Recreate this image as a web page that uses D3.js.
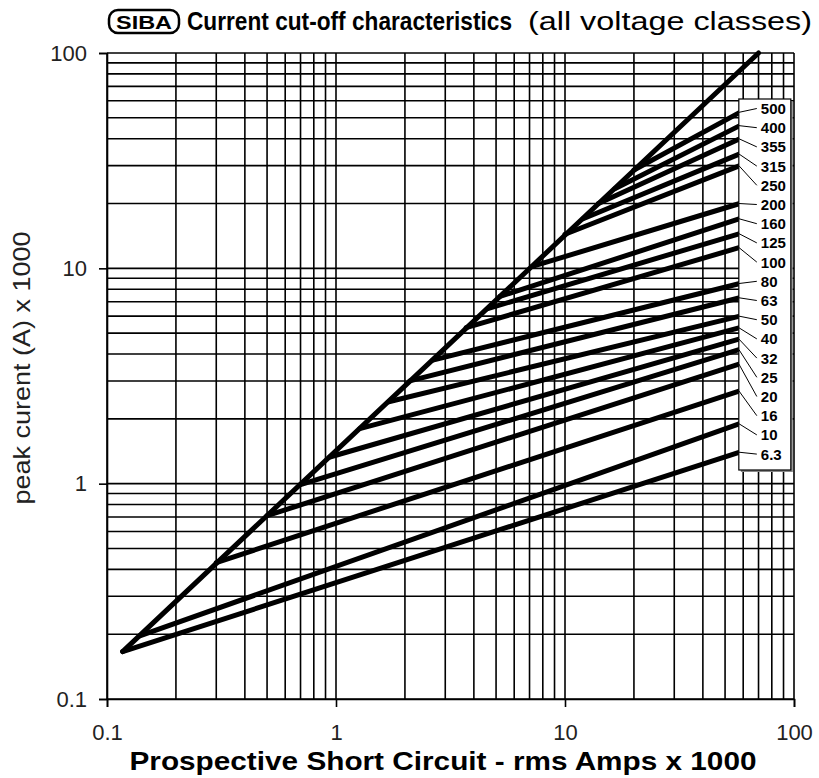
<!DOCTYPE html>
<html lang="en">
<head>
<meta charset="UTF-8">
<title>SIBA current cut-off characteristics</title>
<script src="https://d3js.org/d3.v7.min.js"></script>
<style>
    body { margin: 0; background: #fff; font-family: "Liberation Sans", Arial, sans-serif; }
    .grid line { stroke: #000; stroke-width: 1.6; }
    .curve { fill: none; stroke: #000; stroke-width: 5; stroke-linecap: round; }
    .tick-label { font-size: 22px; fill: #222; }
</style>
</head>
<body>
<svg width="819" height="778"></svg>
<script>
    // fuse ratings in legend order (top to bottom)
    const fuseRatings = ["500", "400", "355", "315", "250", "200", "160", "125", "100", "80",
                         "63", "50", "40", "32", "25", "20", "16", "10", "6.3"];
    // point where each cut-off line leaves the max-peak line (kA rms, kA peak)
    const cutStartRms  = [20, 16.5, 14, 12, 10, 7.2, 5.2, 4.6, 3.7, 2.65, 2.1, 1.7, 1.27, 0.94, 0.7, 0.5, 0.3, 0.14, 0.117];
    const cutStartPeak = [28.6, 23.4, 20, 17, 14.4, 10.2, 7.4, 6.5, 5.3, 3.75, 3.0, 2.4, 1.8, 1.33, 0.99, 0.71, 0.43, 0.197, 0.166];
    // peak at the right-hand end of each line
    const cutEndRms = 58;
    const cutEndPeak = [53, 46, 40, 34, 30, 20, 17, 14.5, 12.5, 8.5, 7.3, 6, 5.3, 4.7, 4.2, 3.6, 2.7, 1.9, 1.4];
    // max peak line (peak = sqrt2 x rms)
    const maxLineRms  = [0.117, 70];
    const maxLinePeak = [0.166, 100];

    const xTicks = [0.1, 1, 10, 100];
    const xTickLabels = ["0.1", "1", "10", "100"];
    const yTicks = [0.1, 1, 10, 100];
    const yTickLabels = ["0.1", "1", "10", "100"];

    const margin = { top: 53, right: 25, bottom: 79, left: 107 };
    const width = 819, height = 778;
    const svg = d3.select("svg");

    const x = d3.scaleLog().domain([0.1, 100]).range([margin.left, width - margin.right]);
    const y = d3.scaleLog().domain([0.1, 100]).range([height - margin.bottom, margin.top]);

    // grid values 1..9 per decade
    const gridVals = [];
    [0.1, 1, 10].forEach(d => { for (let k = 1; k <= 9; k++) gridVals.push(+(k * d).toPrecision(3)); });
    gridVals.push(100);

    const grid = svg.append("g").attr("class", "grid");
    grid.selectAll(".v").data(gridVals).enter().append("line")
        .attr("x1", d => x(d)).attr("x2", d => x(d))
        .attr("y1", y(0.1)).attr("y2", y(100));
    grid.selectAll(".h").data(gridVals).enter().append("line")
        .attr("y1", d => y(d)).attr("y2", d => y(d))
        .attr("x1", x(0.1)).attr("x2", x(100));

    // axes (major ticks only)
    const xAxis = svg.append("g")
        .attr("transform", `translate(0,${y(0.1)})`)
        .call(d3.axisBottom(x).tickValues(xTicks).tickSize(8).tickPadding(17)
            .tickFormat((d, i) => xTickLabels[i]));
    const yAxis = svg.append("g")
        .attr("transform", `translate(${x(0.1)},0)`)
        .call(d3.axisLeft(y).tickValues(yTicks).tickSize(8).tickPadding(12)
            .tickFormat((d, i) => yTickLabels[i]));
    [xAxis, yAxis].forEach(g => {
        g.select(".domain").attr("stroke", "#000").attr("stroke-width", 1.6);
        g.selectAll(".tick line").attr("stroke", "#000").attr("stroke-width", 1.6);
        g.selectAll(".tick text").attr("class", "tick-label")
            .style("font-family", "'Liberation Sans', Arial, sans-serif").attr("fill", "#222");
    });

    // cut-off lines
    const line = d3.line().x(d => x(d[0])).y(d => y(d[1]));
    const curves = fuseRatings.map((r, i) => ({
        rating: r,
        pts: [[cutStartRms[i], cutStartPeak[i]], [cutEndRms, cutEndPeak[i]]]
    }));
    svg.append("g").selectAll("path").data(curves).enter().append("path")
        .attr("class", "curve")
        .attr("d", d => line(d.pts));
    svg.append("path")
        .attr("class", "curve")
        .attr("stroke-width", 4)
        .attr("d", line(maxLineRms.map((v, i) => [v, maxLinePeak[i]])));

    // legend box with leader lines
    const boxX = x(cutEndRms) - 1, boxY = 99, boxW = 52, boxH = 371;
    svg.append("rect").attr("x", boxX + 2).attr("y", boxY + 2).attr("width", boxW).attr("height", boxH)
        .attr("fill", "#888");
    svg.append("rect").attr("x", boxX).attr("y", boxY).attr("width", boxW).attr("height", boxH)
        .attr("fill", "#fff").attr("stroke", "#000").attr("stroke-width", 1.2);
    const labY = i => 108.5 + i * 19.2;
    const leg = svg.append("g");
    leg.selectAll("line").data(curves).enter().append("line")
        .attr("x1", boxX).attr("y1", (d, i) => y(cutEndPeak[i]))
        .attr("x2", boxX + 18).attr("y2", (d, i) => labY(i))
        .attr("stroke", "#000").attr("stroke-width", 1);
    leg.selectAll("text").data(curves).enter().append("text")
        .attr("x", boxX + 22).attr("y", (d, i) => labY(i))
        .attr("dy", "0.36em")
        .attr("font-size", 15).attr("font-weight", "bold")
        .text(d => d.rating);

    // title
    const title = svg.append("g");
    title.append("rect").attr("x", 109).attr("y", 10).attr("width", 70).attr("height", 23)
        .attr("rx", 9).attr("fill", "#fff").attr("stroke", "#000").attr("stroke-width", 2.5);
    title.append("text").attr("x", 144).attr("y", 29).attr("text-anchor", "middle")
        .attr("font-size", 19).attr("font-weight", "bold").attr("textLength", 56)
        .attr("lengthAdjust", "spacingAndGlyphs").text("SIBA");
    title.append("text").attr("x", 187).attr("y", 30)
        .attr("font-size", 25).attr("font-weight", "bold")
        .attr("textLength", 325).attr("lengthAdjust", "spacingAndGlyphs")
        .text("Current cut-off characteristics");
    title.append("text").attr("x", 528).attr("y", 30)
        .attr("font-size", 25)
        .attr("textLength", 284).attr("lengthAdjust", "spacingAndGlyphs")
        .text("(all voltage classes)");

    // axis titles
    svg.append("text").attr("x", 443).attr("y", 770).attr("text-anchor", "middle")
        .attr("font-size", 25).attr("font-weight", "bold")
        .attr("textLength", 627).attr("lengthAdjust", "spacingAndGlyphs")
        .text("Prospective Short Circuit - rms Amps x 1000");
    svg.append("text")
        .attr("transform", "translate(30,368) rotate(-90)")
        .attr("text-anchor", "middle")
        .attr("font-size", 24).attr("fill", "#222")
        .attr("textLength", 273).attr("lengthAdjust", "spacingAndGlyphs")
        .text("peak curent (A) x 1000");
</script>
</body>
</html>
